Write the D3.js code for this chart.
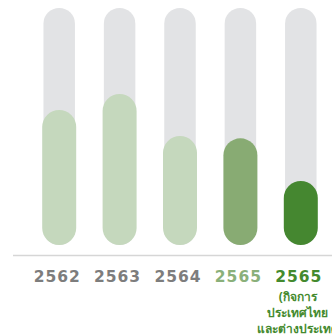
<!DOCTYPE html>
<html>
<head>
<meta charset="utf-8">
<script src="https://cdn.jsdelivr.net/npm/d3@7"></script>
<style>
  body { margin: 0; background: #fff; }
  svg { display: block; }
  .yr { font-family: "DejaVu Sans", sans-serif; font-weight: 700; font-size: 15.5px; letter-spacing: 1px; }
  .sub { font-family: "Noto Sans", Lato, sans-serif; font-weight: 700; font-size: 12px; }
</style>
</head>
<body>
<div id="chart"></div>
<script>
// years and fill level of each bar (share of track, %)
var years = ['2562', '2563', '2564', '2565', '2565'];
var values = [57, 63.7, 46, 45, 27];
var barColors = ['#c5d8bd', '#c5d8bd', '#c5d8bd', '#88ab73', '#458730'];
var labelColors = ['#7d7d7d', '#7d7d7d', '#7d7d7d', '#8ab07a', '#448a2e'];
var subLabel = ['(กิจการ', 'ประเทศไทย', 'และต่างประเทศ'];

var width = 332, height = 334;

var svg = d3.select('#chart').append('svg')
    .attr('width', width)
    .attr('height', height);

var x = d3.scaleBand()
    .domain(d3.range(years.length))
    .range([29, 331])
    .paddingInner(0.47)
    .paddingOuter(0.235);

var y = d3.scaleLinear()
    .domain([0, 100])
    .range([245, 8]);

var trackW = 31.5, fillW = 34;

//grey tracks
svg.selectAll('.track')
    .data(years)
  .enter().append('rect')
    .attr('class', 'track')
    .attr('x', function(d, i){ return x(i) + x.bandwidth() / 2 - trackW / 2; })
    .attr('y', y(100))
    .attr('width', trackW)
    .attr('height', y(0) - y(100))
    .attr('rx', trackW / 2)
    .attr('fill', '#e2e3e5');

//green fills
svg.selectAll('.fill')
    .data(values)
  .enter().append('rect')
    .attr('class', 'fill')
    .attr('x', function(d, i){ return x(i) + x.bandwidth() / 2 - fillW / 2; })
    .attr('y', function(d){ return y(d); })
    .attr('width', fillW)
    .attr('height', function(d){ return y(0) - y(d); })
    .attr('rx', fillW / 2)
    .attr('fill', function(d, i){ return barColors[i]; });

//baseline
svg.append('line')
    .attr('x1', 13).attr('x2', width)
    .attr('y1', 255.5).attr('y2', 255.5)
    .attr('stroke', '#d6d6d6')
    .attr('stroke-width', 1.3);

//year labels
svg.selectAll('.yr')
    .data(years)
  .enter().append('text')
    .attr('class', 'yr')
    .attr('x', function(d, i){ return x(i) + x.bandwidth() / 2 - 2; })
    .attr('y', 282)
    .attr('text-anchor', 'middle')
    .attr('fill', function(d, i){ return labelColors[i]; })
    .text(function(d){ return d; });

//note under last bar
var last = years.length - 1;
svg.selectAll('.sub')
    .data(subLabel)
  .enter().append('text')
    .attr('class', 'sub')
    .attr('x', x(last) + x.bandwidth() / 2 - 3)
    .attr('y', function(d, i){ return 301 + i * 16; })
    .attr('text-anchor', 'middle')
    .attr('fill', '#448a2e')
    .text(function(d){ return d; });
</script>
</body>
</html>
